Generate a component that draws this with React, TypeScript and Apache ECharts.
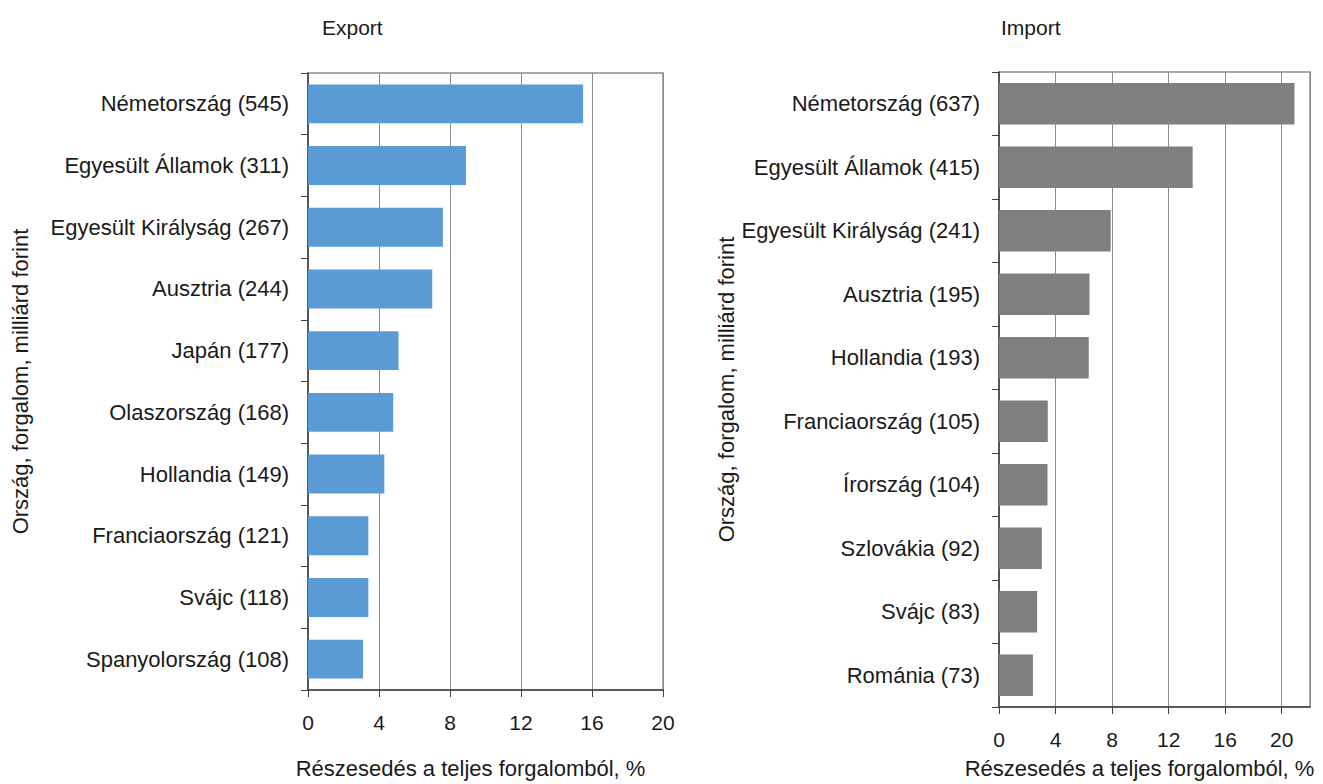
import React, { useEffect, useRef } from "react";
import * as echarts from "echarts";

const exportCategories = [
  "Németország (545)",
  "Egyesült Államok (311)",
  "Egyesült Királyság (267)",
  "Ausztria (244)",
  "Japán (177)",
  "Olaszország (168)",
  "Hollandia (149)",
  "Franciaország (121)",
  "Svájc (118)",
  "Spanyolország (108)",
];
const exportValues = [15.5, 8.9, 7.6, 7.0, 5.1, 4.8, 4.3, 3.4, 3.4, 3.1];

const importCategories = [
  "Németország (637)",
  "Egyesült Államok (415)",
  "Egyesült Királyság (241)",
  "Ausztria (195)",
  "Hollandia (193)",
  "Franciaország (105)",
  "Írország (104)",
  "Szlovákia (92)",
  "Svájc (83)",
  "Románia (73)",
];
const importValues = [20.9, 13.7, 7.9, 6.4, 6.35, 3.45, 3.43, 3.03, 2.7, 2.4];

const exportTitle = "Export";
const importTitle = "Import";
const xName = "Részesedés a teljes forgalomból, %";
const yName = "Ország, forgalom, milliárd forint";

const FONT = "'Liberation Sans', Arial, sans-serif";

export default function App() {
  const ref = useRef<HTMLDivElement>(null);
  useEffect(() => {
    if (!ref.current) return;
    const chart = echarts.init(ref.current, undefined, { renderer: "svg" });
    const axisLine = { show: true, lineStyle: { color: "#404040", width: 1.5 } };
    const splitLine = { show: true, lineStyle: { color: "#8c8c8c", width: 1 } };
    const xAxisCommon = (gridIndex: number, max: number, nameGap: number) => ({
      type: "value",
      gridIndex,
      min: 0,
      max,
      interval: 4,
      name: xName,
      nameLocation: "middle",
      nameGap,
      nameTextStyle: { fontFamily: FONT, fontSize: 22, color: "#1a1a1a", padding: [0, 30, 0, 0] },
      axisLine,
      axisTick: { show: true, length: 7, lineStyle: { color: "#404040" } },
      axisLabel: { fontFamily: FONT, fontSize: 21, color: "#1a1a1a", margin: 22, showMaxLabel: max === 20 },
      splitLine,
    });
    const yAxisCommon = (gridIndex: number, data: string[], nameGap: number) => ({
      type: "category",
      gridIndex,
      data,
      inverse: true,
      name: yName,
      nameLocation: "middle",
      nameGap,
      nameTextStyle: { fontFamily: FONT, fontSize: 22, color: "#1a1a1a" },
      axisLine,
      axisTick: { show: true, length: 7, lineStyle: { color: "#404040" } },
      axisLabel: { fontFamily: FONT, fontSize: 22, color: "#1a1a1a", margin: 19 },
      splitLine: { show: false },
    });
    chart.setOption({
      animation: false,
      backgroundColor: "#ffffff",
      title: [
        { text: exportTitle, left: 317, top: 12, textStyle: { fontFamily: FONT, fontSize: 21, fontWeight: "normal", color: "#1a1a1a" } },
        { text: importTitle, left: 996, top: 12, textStyle: { fontFamily: FONT, fontSize: 21, fontWeight: "normal", color: "#1a1a1a" } },
      ],
      grid: [
        { left: 308, top: 73, width: 355, height: 628, show: true, borderColor: "#8c8c8c", borderWidth: 1.5 },
        { left: 999, top: 72, width: 311, height: 642, show: true, borderColor: "#8c8c8c", borderWidth: 1.5 },
      ],
      xAxis: [xAxisCommon(0, 20, 67), xAxisCommon(1, 22, 50)],
      yAxis: [yAxisCommon(0, exportCategories, 277), yAxisCommon(1, importCategories, 259)],
      series: [
        {
          type: "bar",
          xAxisIndex: 0,
          yAxisIndex: 0,
          data: exportValues,
          barCategoryGap: "37%",
          itemStyle: { color: "#5B9BD5" },
        },
        {
          type: "bar",
          xAxisIndex: 1,
          yAxisIndex: 1,
          data: importValues,
          barCategoryGap: "35%",
          itemStyle: { color: "#7F7F7F" },
        },
      ],
    });
    return () => chart.dispose();
  }, []);
  return (
    <div
      ref={ref}
      style={{ position: "absolute", left: 0, top: 0, width: 1323, height: 784 }}
    />
  );
}
